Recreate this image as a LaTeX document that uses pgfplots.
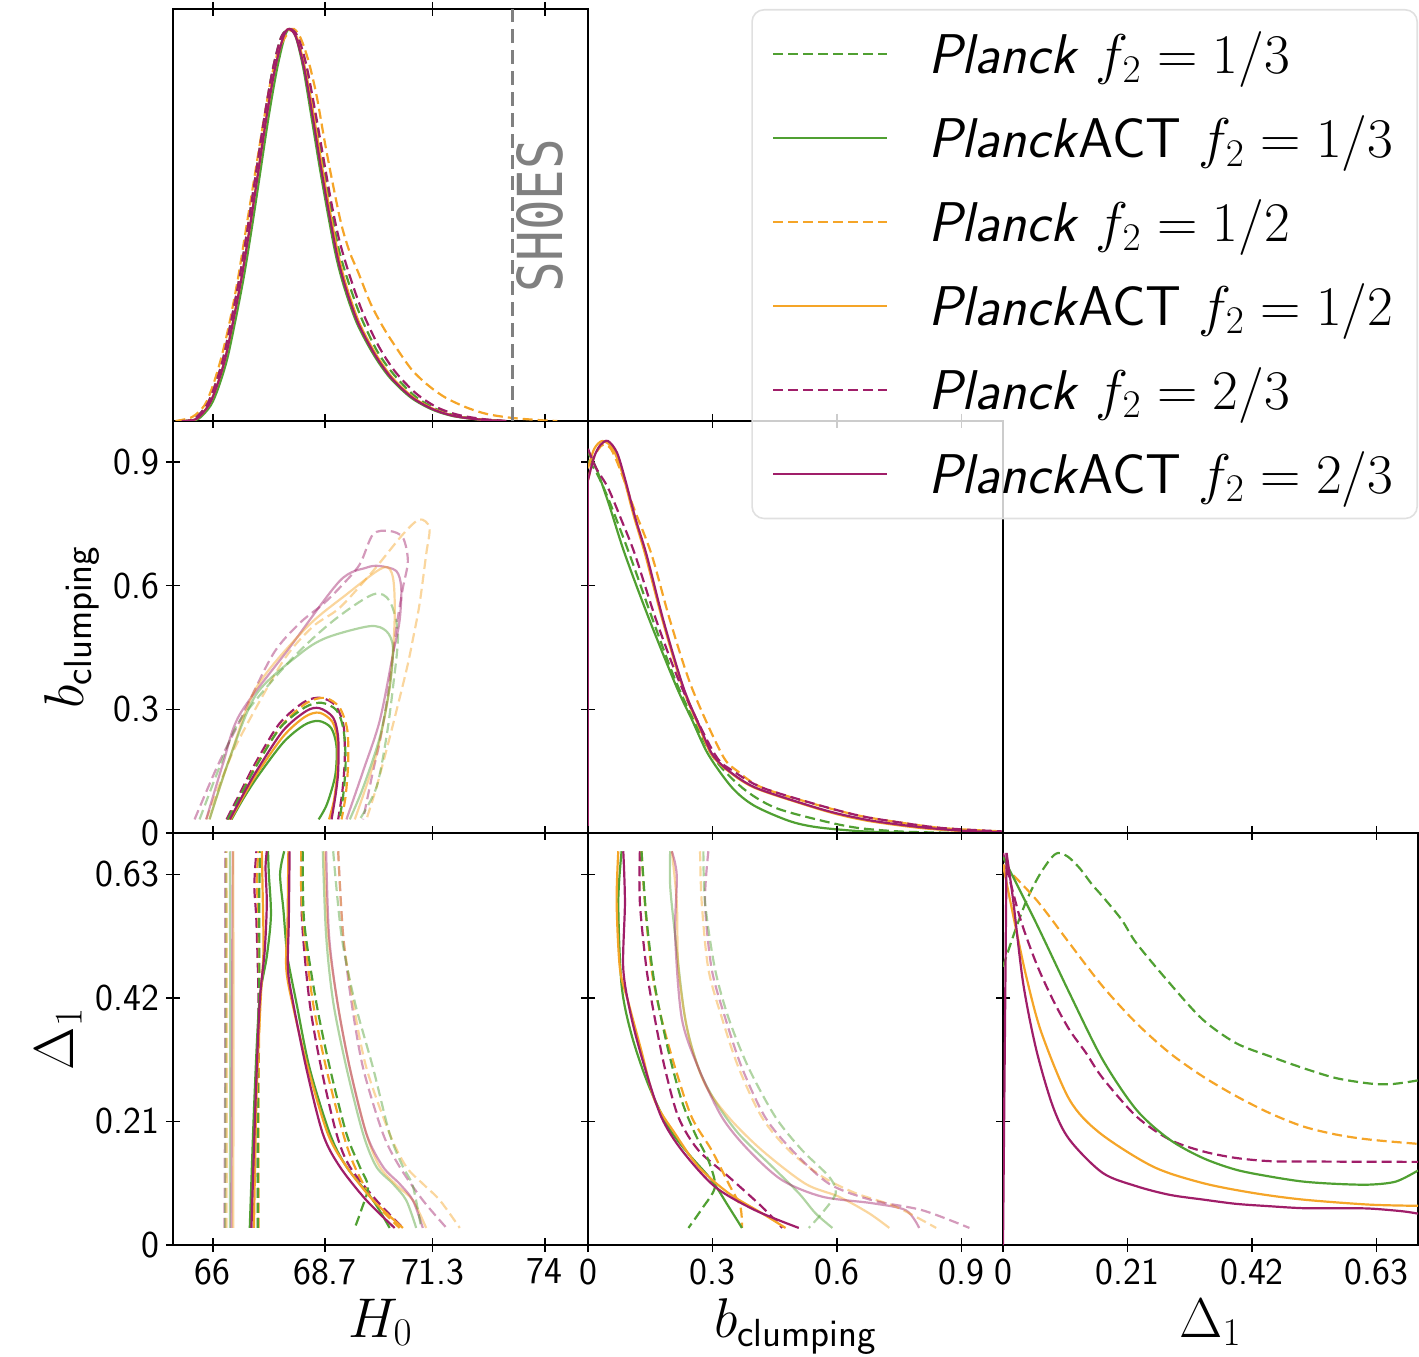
\RequirePackage{fix-cm}
\documentclass[border=0pt]{standalone}
\usepackage{fontspec}
\usepackage{pgfplots}
\pgfplotsset{compat=1.18}
\newfontfamily\shoesfont{DejaVu Sans Mono}
\definecolor{cg}{RGB}{80,160,50}
\definecolor{co}{RGB}{245,165,40}
\definecolor{cm}{RGB}{160,30,105}
\pgfplotsset{
  tri/.style={scale only axis, width=207.5pt, height=206pt, anchor=south west,
    axis line style={line width=0.8pt}, every tick/.style={black, line width=0.7pt},
    major tick length=7pt, tick align=center,
    tick label style={font=\sffamily\fontsize{19}{19}\selectfont},
    label style={font=\fontsize{28}{30}\selectfont},
    xticklabels={}, yticklabels={}},
  gD/.style={color=cg, line width=1.1pt, dash pattern=on 5pt off 2.5pt, smooth},
  gS/.style={color=cg, line width=1.1pt, smooth},
  oD/.style={color=co, line width=1.1pt, dash pattern=on 5pt off 2.5pt, smooth},
  oS/.style={color=co, line width=1.1pt, smooth},
  mD/.style={color=cm, line width=1.1pt, dash pattern=on 5pt off 2.5pt, smooth},
  mS/.style={color=cm, line width=1.1pt, smooth},
  lt/.style={opacity=0.45},
}
\begin{document}
\begin{tikzpicture}
\useasboundingbox (0,0) rectangle (709.5pt,678pt);

% ---------------- panel (2,1): H0 vs b_clumping
\begin{axis}[tri, at={(86.5pt,261.5pt)}, xmin=65.04, xmax=75.04, ymin=0, ymax=1,
  xtick={66,68.7,71.3,74}, ytick={0,0.3,0.6,0.9}, yticklabels={0,0.3,0.6,0.9},
  ylabel={$b_{\mathsf{clumping}}$}]
% outer (light)
\addplot[mD,lt] coordinates {(65.56,0.033) (66.1,0.16) (66.65,0.272) (67.45,0.434) (68.1,0.51) (68.65,0.555) (69.1,0.6) (69.54,0.652) (69.86,0.725) (70.26,0.733) (70.58,0.717) (70.7,0.66) (70.58,0.595) (70.42,0.498) (70.3,0.4) (70.18,0.312) (70.02,0.22) (69.86,0.15) (69.62,0.033)};
\addplot[oD,lt] coordinates {(65.84,0.033) (66.25,0.14) (66.65,0.231) (67.69,0.417) (68.4,0.5) (69.06,0.547) (69.86,0.636) (70.58,0.725) (70.98,0.761) (71.22,0.741) (71.14,0.676) (70.98,0.555) (70.82,0.47) (70.66,0.393) (70.26,0.231) (69.94,0.11) (69.7,0.033)};
\addplot[gD,lt] coordinates {(65.68,0.033) (66.2,0.17) (66.65,0.272) (67.85,0.417) (68.9,0.515) (69.86,0.579) (70.26,0.563) (70.46,0.482) (70.34,0.353) (70.18,0.231) (69.94,0.11) (69.54,0.033)};
\addplot[mS,lt] coordinates {(65.84,0.033) (66.25,0.17) (66.65,0.288) (67.85,0.45) (69.06,0.612) (69.7,0.644) (70.02,0.648) (70.42,0.636) (70.54,0.595) (70.5,0.515) (70.34,0.434) (70.02,0.272) (69.62,0.15) (69.22,0.033)};
\addplot[oS,lt] coordinates {(65.92,0.033) (66.4,0.18) (67.05,0.353) (68.25,0.498) (69.22,0.579) (70.1,0.644) (70.34,0.62) (70.38,0.515) (70.26,0.353) (69.94,0.191) (69.42,0.033)};
\addplot[gS,lt] coordinates {(65.92,0.033) (66.4,0.18) (67.05,0.337) (68.09,0.434) (68.74,0.474) (69.78,0.502) (70.18,0.49) (70.34,0.45) (70.26,0.353) (70.02,0.231) (69.62,0.11) (69.3,0.033)};
% inner (dark)
\addplot[mD] coordinates {(66.33,0.033) (66.62,0.09) (67.0,0.165) (67.6,0.265) (68.2,0.318) (68.6,0.328) (68.95,0.31) (69.15,0.26) (69.18,0.18) (69.12,0.1) (69.02,0.033)};
\addplot[oD] coordinates {(66.38,0.033) (66.66,0.088) (67.02,0.16) (67.65,0.26) (68.25,0.315) (68.7,0.328) (69.05,0.305) (69.24,0.25) (69.26,0.17) (69.2,0.09) (69.1,0.033)};
\addplot[gD] coordinates {(66.36,0.033) (66.65,0.088) (67.02,0.158) (67.62,0.255) (68.22,0.305) (68.62,0.316) (68.98,0.298) (69.15,0.25) (69.2,0.17) (69.14,0.09) (69.05,0.033)};
\addplot[gS] coordinates {(66.45,0.033) (66.75,0.086) (67.1,0.14) (67.7,0.22) (68.2,0.262) (68.55,0.272) (68.85,0.255) (68.98,0.21) (68.95,0.14) (68.75,0.07) (68.55,0.033)};
\addplot[oS] coordinates {(66.43,0.033) (66.72,0.086) (67.07,0.145) (67.7,0.235) (68.22,0.282) (68.57,0.292) (68.88,0.27) (69.0,0.225) (69.0,0.15) (68.92,0.08) (68.8,0.033)};
\addplot[mS] coordinates {(66.41,0.033) (66.69,0.086) (67.05,0.15) (67.69,0.248) (68.25,0.296) (68.57,0.303) (68.9,0.28) (69.02,0.231) (69.02,0.15) (68.96,0.094) (68.86,0.033)};
\end{axis}

% ---------------- panel (2,2): b_clumping 1D
\begin{axis}[tri, at={(294pt,261.5pt)}, xmin=0, xmax=1, ymin=0, ymax=1.051,
  xtick={0,0.3,0.6,0.9}, ytick=\empty]
\addplot[gD] coordinates {(0,0.95) (0.02,0.92) (0.05,0.85) (0.1,0.711) (0.157,0.541) (0.218,0.371) (0.298,0.2) (0.371,0.116) (0.45,0.065) (0.565,0.031) (0.65,0.013) (0.75,0.004) (0.85,0.001) (0.95,0)};
\addplot[gS] coordinates {(0,0.97) (0.02,0.93) (0.05,0.84) (0.089,0.711) (0.149,0.541) (0.214,0.371) (0.25,0.29) (0.29,0.2) (0.347,0.116) (0.4,0.07) (0.484,0.031) (0.55,0.015) (0.65,0.005) (0.75,0.001) (0.85,0)};
\addplot[oD] coordinates {(0,0.9) (0.015,0.96) (0.035,0.99) (0.055,0.98) (0.08,0.92) (0.11,0.83) (0.153,0.711) (0.198,0.541) (0.25,0.371) (0.323,0.2) (0.36,0.158) (0.419,0.116) (0.548,0.073) (0.65,0.045) (0.726,0.031) (0.85,0.013) (1.0,0.004)};
\addplot[oS] coordinates {(0,0.93) (0.015,0.98) (0.035,1.0) (0.06,0.98) (0.085,0.91) (0.11,0.81) (0.138,0.71) (0.18,0.541) (0.228,0.371) (0.268,0.27) (0.298,0.2) (0.338,0.158) (0.4,0.116) (0.52,0.073) (0.6,0.048) (0.68,0.03) (0.8,0.013) (0.9,0.005) (1.0,0.001)};
\addplot[mD] coordinates {(0,0.98) (0.02,0.93) (0.048,0.881) (0.08,0.8) (0.113,0.711) (0.165,0.541) (0.226,0.371) (0.306,0.2) (0.35,0.158) (0.419,0.116) (0.55,0.073) (0.65,0.045) (0.726,0.031) (0.85,0.013) (1.0,0.004)};
\addplot[color=cm, line width=1.1pt] coordinates {(0,0) (0,0.9)};
\addplot[mS] coordinates {(0,0.9) (0.015,0.96) (0.03,0.99) (0.048,1.0) (0.07,0.97) (0.09,0.9) (0.115,0.8) (0.141,0.71) (0.182,0.541) (0.23,0.371) (0.27,0.27) (0.3,0.2) (0.34,0.158) (0.403,0.116) (0.524,0.073) (0.6,0.05) (0.686,0.031) (0.8,0.015) (0.9,0.006) (1.0,0.002)};
\end{axis}

% ---------------- panel (3,1): H0 vs Delta1
\begin{axis}[tri, at={(86.5pt,55.5pt)}, xmin=65.04, xmax=75.04, ymin=0, ymax=0.7,
  xtick={66,68.7,71.3,74}, xticklabels={66,68.7,71.3,74},
  ytick={0,0.21,0.42,0.63}, yticklabels={0,0.21,0.42,0.63},
  xlabel={$H_0$}, ylabel={$\Delta_1$}]
% outer left
\addplot[mD,lt] coordinates {(66.28,0.029) (66.3,0.35) (66.3,0.669)};
\addplot[gD,lt] coordinates {(66.3,0.029) (66.31,0.35) (66.32,0.669)};
\addplot[oD,lt] coordinates {(66.33,0.029) (66.34,0.35) (66.33,0.669)};
\addplot[gS,lt] coordinates {(66.41,0.029) (66.42,0.35) (66.41,0.669)};
\addplot[mS,lt] coordinates {(66.45,0.029) (66.46,0.35) (66.48,0.669)};
\addplot[oS,lt] coordinates {(66.49,0.029) (66.5,0.35) (66.49,0.669)};
% outer right
\addplot[gS,lt] coordinates {(68.65,0.669) (68.73,0.526) (68.9,0.413) (69.22,0.301) (69.62,0.189) (69.94,0.133) (70.34,0.104) (70.66,0.076) (70.9,0.029)};
\addplot[oS,lt] coordinates {(68.69,0.669) (68.78,0.526) (69.0,0.413) (69.3,0.301) (69.7,0.189) (70.02,0.133) (70.45,0.1) (70.82,0.076) (71.14,0.029)};
\addplot[mS,lt] coordinates {(68.73,0.669) (68.8,0.526) (69.0,0.413) (69.3,0.301) (69.7,0.189) (70.1,0.133) (70.5,0.104) (70.82,0.076) (71.06,0.029)};
\addplot[mD,lt] coordinates {(69.02,0.669) (69.14,0.526) (69.34,0.413) (69.62,0.301) (70.1,0.189) (70.5,0.133) (71.06,0.076) (71.63,0.029)};
\addplot[oD,lt] coordinates {(69.02,0.669) (69.14,0.526) (69.38,0.413) (69.7,0.301) (70.26,0.189) (70.66,0.133) (71.06,0.104) (71.47,0.076) (71.95,0.029)};
\addplot[gD,lt] coordinates {(68.9,0.669) (69.1,0.526) (69.42,0.413) (69.86,0.301) (70.26,0.189) (70.58,0.133) (70.82,0.1) (71.02,0.029)};
% inner left
\addplot[mD] coordinates {(67.09,0.029) (67.08,0.245) (67.1,0.413) (67.05,0.55) (67.0,0.61) (67.05,0.669)};
\addplot[oD] coordinates {(67.1,0.029) (67.1,0.245) (67.12,0.413) (67.1,0.55) (67.06,0.62) (67.1,0.669)};
\addplot[gD] coordinates {(67.08,0.029) (67.09,0.3) (67.12,0.45) (67.12,0.6) (67.14,0.669)};
\addplot[gS] coordinates {(66.89,0.029) (67.0,0.245) (67.12,0.413) (67.3,0.49) (67.4,0.56) (67.35,0.63) (67.33,0.669)};
\addplot[oS] coordinates {(66.99,0.029) (67.05,0.245) (67.15,0.413) (67.22,0.5) (67.2,0.6) (67.18,0.669)};
\addplot[mS] coordinates {(66.93,0.029) (67.03,0.245) (67.13,0.413) (67.25,0.5) (67.3,0.58) (67.27,0.64) (67.3,0.669)};
% inner right
\addplot[mD] coordinates {(68.13,0.669) (68.15,0.55) (68.33,0.413) (68.61,0.301) (68.98,0.189) (69.3,0.133) (69.94,0.076) (70.58,0.029)};
\addplot[oD] coordinates {(68.13,0.669) (68.13,0.6) (68.21,0.526) (68.41,0.413) (68.73,0.301) (69.14,0.189) (69.42,0.133) (69.86,0.076) (70.5,0.029)};
\addplot[gD] coordinates {(68.17,0.669) (68.2,0.55) (68.49,0.413) (68.82,0.301) (69.22,0.189) (69.54,0.133) (69.74,0.099) (69.58,0.06) (69.42,0.029)};
\addplot[gS] coordinates {(67.72,0.669) (67.62,0.63) (67.7,0.57) (67.78,0.5) (67.85,0.469) (68.01,0.413) (68.33,0.301) (68.82,0.189) (69.22,0.133) (69.86,0.076) (70.26,0.029)};
\addplot[oS] coordinates {(67.82,0.669) (67.8,0.55) (67.77,0.469) (67.95,0.4) (68.29,0.301) (68.77,0.189) (69.22,0.133) (69.86,0.076) (70.58,0.029)};
\addplot[mS] coordinates {(67.85,0.669) (67.83,0.55) (67.81,0.469) (67.93,0.413) (68.25,0.301) (68.65,0.189) (69.06,0.133) (69.7,0.076) (70.38,0.029)};
\end{axis}

% ---------------- panel (3,2): b_clumping vs Delta1
\begin{axis}[tri, at={(294pt,55.5pt)}, xmin=0, xmax=1, ymin=0, ymax=0.7,
  xtick={0,0.3,0.6,0.9}, xticklabels={0,0.3,0.6,0.9},
  ytick={0,0.21,0.42,0.63}, xlabel={$b_{\mathsf{clumping}}$}]
% outer
\addplot[gS,lt] coordinates {(0.198,0.669) (0.198,0.61) (0.21,0.526) (0.234,0.385) (0.266,0.301) (0.306,0.245) (0.363,0.189) (0.444,0.133) (0.508,0.088) (0.548,0.054) (0.589,0.029)};
\addplot[oS,lt] coordinates {(0.202,0.669) (0.214,0.582) (0.218,0.469) (0.242,0.357) (0.282,0.273) (0.339,0.217) (0.419,0.161) (0.524,0.104) (0.605,0.082) (0.677,0.054) (0.726,0.029)};
\addplot[mS,lt] coordinates {(0.202,0.669) (0.214,0.627) (0.21,0.526) (0.226,0.385) (0.266,0.301) (0.323,0.217) (0.387,0.161) (0.468,0.11) (0.565,0.082) (0.685,0.071) (0.766,0.059) (0.798,0.029)};
\addplot[oD,lt] coordinates {(0.27,0.669) (0.274,0.582) (0.29,0.469) (0.323,0.385) (0.363,0.301) (0.419,0.217) (0.484,0.161) (0.565,0.116) (0.645,0.088) (0.742,0.065) (0.839,0.029)};
\addplot[mD,lt] coordinates {(0.29,0.669) (0.282,0.582) (0.298,0.469) (0.331,0.385) (0.371,0.301) (0.427,0.217) (0.492,0.161) (0.581,0.104) (0.685,0.076) (0.806,0.059) (0.919,0.029)};
\addplot[gD,lt] coordinates {(0.278,0.669) (0.282,0.582) (0.306,0.469) (0.339,0.385) (0.387,0.301) (0.452,0.217) (0.516,0.161) (0.581,0.116) (0.597,0.088) (0.565,0.055) (0.532,0.029)};
% inner
\addplot[mD] coordinates {(0.125,0.669) (0.125,0.582) (0.141,0.469) (0.161,0.385) (0.185,0.301) (0.218,0.217) (0.266,0.161) (0.339,0.116) (0.419,0.065) (0.468,0.029)};
\addplot[oD] coordinates {(0.129,0.669) (0.137,0.582) (0.153,0.469) (0.177,0.385) (0.21,0.301) (0.25,0.217) (0.298,0.161) (0.339,0.104) (0.367,0.065) (0.371,0.029)};
\addplot[gD] coordinates {(0.129,0.669) (0.141,0.554) (0.161,0.441) (0.194,0.329) (0.226,0.245) (0.258,0.189) (0.29,0.144) (0.306,0.099) (0.275,0.062) (0.242,0.029)};
\addplot[gS] coordinates {(0.081,0.669) (0.073,0.582) (0.081,0.441) (0.105,0.357) (0.145,0.273) (0.194,0.2) (0.242,0.155) (0.298,0.11) (0.339,0.065) (0.371,0.029)};
\addplot[oS] coordinates {(0.073,0.669) (0.069,0.582) (0.077,0.469) (0.097,0.413) (0.129,0.329) (0.161,0.245) (0.21,0.189) (0.266,0.133) (0.339,0.088) (0.419,0.054) (0.476,0.029)};
\addplot[mS] coordinates {(0.085,0.669) (0.089,0.582) (0.085,0.469) (0.105,0.385) (0.137,0.301) (0.177,0.217) (0.226,0.161) (0.306,0.099) (0.403,0.059) (0.508,0.029)};
\end{axis}

% ---------------- panel (3,3): Delta1 1D
\begin{axis}[tri, at={(501.5pt,55.5pt)}, xmin=0, xmax=0.7, ymin=0, ymax=1.051,
  xtick={0,0.21,0.42,0.63}, xticklabels={0,0.21,0.42,0.63}, ytick=\empty,
  xlabel={$\Delta_1$}]
\addplot[gD] coordinates {(0,0.71) (0.02,0.8) (0.04,0.88) (0.06,0.94) (0.08,0.985) (0.093,1.0) (0.11,0.99) (0.13,0.96) (0.15,0.92) (0.168,0.889) (0.2,0.83) (0.225,0.77) (0.281,0.668) (0.337,0.575) (0.393,0.515) (0.449,0.482) (0.505,0.452) (0.561,0.426) (0.618,0.412) (0.651,0.41) (0.68,0.415) (0.7,0.42)};
\addplot[oD] coordinates {(0,0.97) (0.056,0.881) (0.112,0.77) (0.168,0.66) (0.225,0.566) (0.281,0.49) (0.337,0.43) (0.393,0.38) (0.449,0.337) (0.505,0.303) (0.561,0.282) (0.618,0.269) (0.7,0.258)};
\addplot[mD] coordinates {(0,1.0) (0.028,0.838) (0.056,0.719) (0.084,0.626) (0.112,0.549) (0.14,0.49) (0.168,0.426) (0.225,0.328) (0.281,0.269) (0.337,0.239) (0.393,0.222) (0.449,0.214) (0.505,0.213) (0.7,0.212)};
\addplot[gS] coordinates {(0,0.99) (0.056,0.821) (0.112,0.643) (0.168,0.473) (0.225,0.345) (0.281,0.269) (0.337,0.222) (0.393,0.192) (0.449,0.175) (0.505,0.162) (0.561,0.156) (0.618,0.154) (0.663,0.162) (0.7,0.19)};
\addplot[oS] coordinates {(0,0.97) (0.02,0.82) (0.04,0.68) (0.065,0.541) (0.112,0.371) (0.163,0.286) (0.253,0.2) (0.337,0.158) (0.421,0.133) (0.505,0.116) (0.618,0.103) (0.7,0.1)};
\addplot[color=cm, line width=1.1pt] coordinates {(0,0) (0.006,1.0)};
\addplot[mS] coordinates {(0.006,1.0) (0.017,0.881) (0.034,0.668) (0.056,0.499) (0.084,0.354) (0.112,0.269) (0.168,0.184) (0.225,0.15) (0.281,0.128) (0.337,0.116) (0.393,0.105) (0.449,0.099) (0.505,0.094) (0.561,0.094) (0.618,0.093) (0.674,0.086) (0.7,0.08)};
\end{axis}

% ---------------- panel (1,1): H0 1D (with legend, drawn last)
\begin{axis}[tri, at={(86.5pt,467.5pt)}, xmin=65.04, xmax=75.04, ymin=0, ymax=1.051,
  xtick={66,68.7,71.3,74}, ytick=\empty,
  legend image code/.code={\draw[#1] (0pt,0pt) -- (57pt,0pt);},
  legend style={at={(axis description cs:3.0,1.0)}, anchor=north east,
    draw=black!12, line width=0.8pt, rounded corners=6pt, fill=white, fill opacity=0.8,
    text opacity=1, draw opacity=1, font=\fontsize{28}{28}\selectfont,
    inner xsep=10pt, inner ysep=9pt, row sep=15.5pt,
    cells={anchor=west, inner sep=0pt},
    /tikz/every odd column/.style={column sep=18pt}},
  legend cell align=left]
\addplot[gD] coordinates {(65.25,0) (65.55,0.005) (65.85,0.04) (66.05,0.09) (66.25,0.16) (66.45,0.26) (66.65,0.37) (66.85,0.5) (67.05,0.64) (67.25,0.78) (67.45,0.9) (67.65,0.98) (67.85,1.0) (68.03,0.98) (68.23,0.9) (68.43,0.79) (68.63,0.67) (68.83,0.55) (69.03,0.44) (69.25,0.36) (69.55,0.27) (69.95,0.18) (70.35,0.12) (70.85,0.065) (71.35,0.032) (71.85,0.014) (72.45,0.004) (73.05,0)};
\addlegendentry{\textsf{\textit{Planck}}\ $f_2=1/3$}
\addplot[gS] coordinates {(65.35,0) (65.65,0.005) (65.95,0.04) (66.15,0.09) (66.35,0.16) (66.55,0.26) (66.75,0.37) (66.95,0.5) (67.15,0.64) (67.35,0.78) (67.55,0.9) (67.73,0.98) (67.85,1.0) (68.0,0.98) (68.18,0.9) (68.37,0.78) (68.57,0.65) (68.77,0.53) (68.97,0.42) (69.17,0.34) (69.47,0.25) (69.87,0.17) (70.27,0.11) (70.77,0.06) (71.27,0.03) (71.77,0.013) (72.37,0.004) (72.97,0)};
\addlegendentry{\textsf{\textit{Planck}ACT}\ $f_2=1/3$}
\addplot[oD] coordinates {(65.1,0) (65.5,0.01) (65.8,0.04) (66.0,0.09) (66.2,0.16) (66.4,0.25) (66.6,0.36) (66.8,0.49) (67.0,0.62) (67.2,0.75) (67.4,0.87) (67.6,0.95) (67.9,1.0) (68.1,0.98) (68.3,0.92) (68.5,0.83) (68.7,0.71) (68.9,0.6) (69.1,0.5) (69.3,0.43) (69.5,0.38) (69.8,0.3) (70.1,0.24) (70.4,0.19) (70.8,0.13) (71.2,0.09) (71.6,0.06) (72.1,0.035) (72.6,0.018) (73.2,0.008) (73.9,0.002) (74.3,0)};
\addlegendentry{\textsf{\textit{Planck}}\ $f_2=1/2$}
\addplot[oS] coordinates {(65.3,0) (65.6,0.005) (65.9,0.04) (66.1,0.09) (66.3,0.16) (66.5,0.26) (66.7,0.37) (66.9,0.5) (67.1,0.64) (67.3,0.78) (67.5,0.9) (67.7,0.98) (67.83,1.0) (68.02,0.98) (68.22,0.9) (68.43,0.78) (68.63,0.65) (68.83,0.53) (69.03,0.42) (69.23,0.34) (69.53,0.25) (69.93,0.17) (70.33,0.11) (70.83,0.06) (71.33,0.03) (71.83,0.013) (72.43,0.004) (73.03,0)};
\addlegendentry{\textsf{\textit{Planck}ACT}\ $f_2=1/2$}
\addplot[mD] coordinates {(65.25,0) (65.55,0.005) (65.85,0.04) (66.05,0.09) (66.25,0.16) (66.45,0.26) (66.65,0.37) (66.85,0.5) (67.05,0.64) (67.25,0.78) (67.45,0.9) (67.65,0.98) (67.86,1.0) (68.05,0.98) (68.25,0.91) (68.45,0.8) (68.65,0.68) (68.85,0.56) (69.05,0.46) (69.3,0.37) (69.6,0.28) (70.0,0.19) (70.4,0.125) (70.9,0.07) (71.4,0.035) (71.9,0.016) (72.5,0.005) (73.1,0)};
\addlegendentry{\textsf{\textit{Planck}}\ $f_2=2/3$}
\addplot[mS] coordinates {(65.3,0) (65.6,0.005) (65.9,0.04) (66.1,0.09) (66.3,0.16) (66.5,0.26) (66.7,0.37) (66.9,0.5) (67.1,0.64) (67.3,0.78) (67.5,0.9) (67.7,0.98) (67.83,1.0) (68.0,0.98) (68.2,0.9) (68.4,0.78) (68.6,0.65) (68.8,0.53) (69.0,0.42) (69.2,0.34) (69.5,0.25) (69.9,0.17) (70.3,0.11) (70.8,0.06) (71.3,0.03) (71.8,0.013) (72.4,0.004) (73,0)};
\addlegendentry{\textsf{\textit{Planck}ACT}\ $f_2=2/3$}
\addplot[color=gray, line width=1.5pt, dash pattern=on 7pt off 3.5pt, forget plot] coordinates {(73.23,0) (73.23,1.051)};
\node[rotate=90, anchor=north, inner sep=0pt, text=gray] at (axis cs:73.3,0.524)
  {\scalebox{0.82}[1]{\shoesfont\fontsize{31}{31}\selectfont SH0ES}};
\end{axis}
\end{tikzpicture}
\end{document}
